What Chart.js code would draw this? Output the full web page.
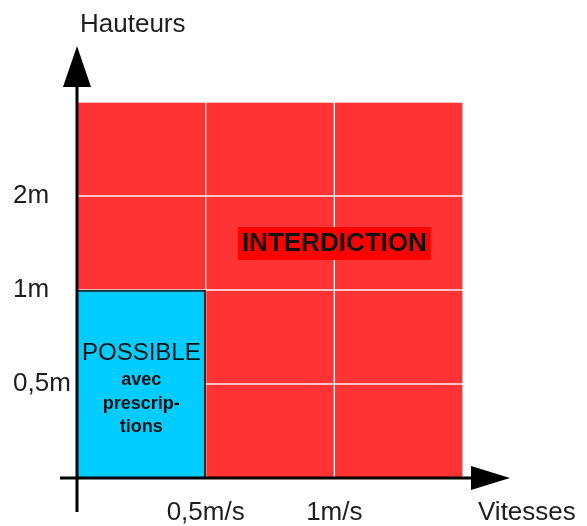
<!DOCTYPE html>
<html>
<head>
<meta charset="utf-8">
<script src="https://cdn.jsdelivr.net/npm/chart.js@4"></script>
<style>
  body { margin: 0; background: #fff; }
  #zones { display: block; }
</style>
</head>
<body>
<canvas id="zones" width="587" height="526"></canvas>
<script>
// graduations des axes
const vitesses = ['0,5m/s', '1m/s'];
const hauteurs = ['0,5m', '1m', '2m'];

// hauteur des cases dans chaque colonne de vitesse (en graduations)
const possible = [2, null, null];
const interdiction = [
  [null, 1, 1],
  [null, 1, 1],
  [1, 1, 1],
  [1, 1, 1]
];

const police = '"Liberation Sans", Arial, sans-serif';
const rouge = '#ff3333';
const bleu = '#00ccff';
const texte = '#1e1e1e';

function colonnes(valeurs) {
  return valeurs
    .map((v, i) => ({ x: i + 0.5, y: v }))
    .filter(p => p.y !== null);
}

const datasets = [{
  label: 'POSSIBLE',
  data: colonnes(possible),
  backgroundColor: bleu,
  borderColor: '#1c2a30',
  borderWidth: { top: 2, right: 2, bottom: 0, left: 0 },
  borderSkipped: false
}];
interdiction.forEach((ligne, i) => {
  datasets.push({
    label: 'INTERDICTION ' + (i + 1),
    data: colonnes(ligne),
    backgroundColor: rouge,
    borderColor: 'rgba(255,235,235,0.6)',
    borderWidth: 1,
    borderSkipped: false
  });
});

// flèches, titres d'axes et textes des zones
const dessin = {
  id: 'dessin',
  afterDatasetsDraw(chart) {
    const { ctx, scales: { x, y } } = chart;
    const x0 = x.getPixelForValue(0), y0 = y.getPixelForValue(0);
    const xFin = x.getPixelForValue(3), yFin = y.getPixelForValue(4);
    ctx.save();
    ctx.textAlign = 'center';
    ctx.textBaseline = 'middle';

    // INTERDICTION
    ctx.font = 'bold 26px ' + police;
    const ix = x.getPixelForValue(2), iy = y.getPixelForValue(2.5);
    const w = ctx.measureText('INTERDICTION').width;
    ctx.fillStyle = '#ff0000';
    ctx.fillRect(ix - w / 2 - 4, iy - 16, w + 8, 33);
    ctx.fillStyle = '#111';
    ctx.fillText('INTERDICTION', ix, iy + 1);

    // POSSIBLE avec prescriptions
    const px = x.getPixelForValue(0.5), py = y.getPixelForValue(2);
    ctx.font = '24px ' + police;
    ctx.fillText('POSSIBLE', px, py + 63);
    ctx.font = 'bold 18px ' + police;
    ctx.fillText('avec', px, py + 90);
    ctx.fillText('prescrip-', px, py + 114);
    ctx.fillText('tions', px, py + 137);

    // axes
    ctx.strokeStyle = '#000';
    ctx.fillStyle = '#000';
    ctx.lineWidth = 3;
    ctx.beginPath();
    ctx.moveTo(x0, y0 + 34);
    ctx.lineTo(x0, yFin - 16);
    ctx.moveTo(x0 - 17, y0);
    ctx.lineTo(xFin + 9, y0);
    ctx.stroke();

    ctx.beginPath();
    ctx.moveTo(x0, yFin - 56);
    ctx.lineTo(x0 - 14, yFin - 15);
    ctx.lineTo(x0 + 14, yFin - 15);
    ctx.closePath();
    ctx.fill();

    ctx.beginPath();
    ctx.moveTo(xFin + 47, y0);
    ctx.lineTo(xFin + 8, y0 - 12);
    ctx.lineTo(xFin + 8, y0 + 12);
    ctx.closePath();
    ctx.fill();

    // titres
    ctx.fillStyle = texte;
    ctx.textAlign = 'left';
    ctx.font = '26px ' + police;
    ctx.fillText('Hauteurs', x0 + 3, yFin - 77);
    ctx.fillText('Vitesses', xFin + 15, y0 + 35);
    ctx.restore();
  }
};

new Chart(document.getElementById('zones'), {
  type: 'bar',
  data: { datasets: datasets },
  options: {
    responsive: false,
    animation: false,
    events: [],
    layout: { padding: { left: 13, right: 124, top: 102, bottom: 0 } },
    plugins: {
      legend: { display: false },
      tooltip: { enabled: false }
    },
    datasets: {
      bar: { categoryPercentage: 1, barPercentage: 1 }
    },
    scales: {
      x: {
        type: 'linear',
        stacked: true,
        offset: false,
        min: 0,
        max: 3,
        grid: { display: false, drawTicks: false, offset: false },
        border: { display: false },
        afterBuildTicks: s => { s.ticks = vitesses.map((_, i) => ({ value: i + 1 })); },
        afterFit: s => { s.height = 48; },
        ticks: {
          padding: 19,
          maxRotation: 0,
          color: texte,
          font: { family: police, size: 26 },
          callback: (v, i) => vitesses[i]
        }
      },
      y: {
        stacked: true,
        min: 0,
        max: 4,
        grid: { display: false, drawTicks: false },
        border: { display: false },
        afterBuildTicks: s => { s.ticks = hauteurs.map((_, i) => ({ value: i + 1 })); },
        afterFit: s => { s.width = 64; },
        ticks: {
          crossAlign: 'far',
          color: texte,
          font: { family: police, size: 26 },
          callback: (v, i) => hauteurs[i]
        }
      }
    }
  },
  plugins: [dessin]
});
</script>
</body>
</html>
